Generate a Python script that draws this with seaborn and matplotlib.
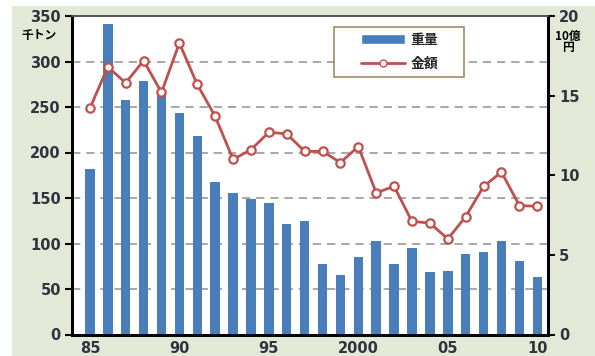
import pandas as pd
import seaborn as sns
import matplotlib.pyplot as plt
from matplotlib.patches import Rectangle
from matplotlib.lines import Line2D

# data
years = list(range(1985, 2011))
weight = [182, 341, 258, 279, 268, 243, 218, 168, 155, 149, 145, 121, 125,
          78, 65, 85, 103, 77, 95, 69, 70, 88, 91, 103, 81, 63]   # 千トン
amount = [14.2, 16.8, 15.8, 17.2, 15.2, 18.3, 15.7, 13.7, 11.0, 11.6, 12.7,
          12.6, 11.5, 11.5, 10.8, 11.8, 8.9, 9.3, 7.1, 7.0, 6.0, 7.4, 9.3,
          10.2, 8.1, 8.05]                                             # 10億円
tick_pos = [0, 5, 10, 15, 20, 25]
tick_labels = ["85", "90", "95", "2000", "05", "10"]

blue = "#4a7ebb"
red = "#c0504d"
txt = "#333340"
bg = "#e3e9d7"

df = pd.DataFrame({"year": [str(y) for y in years], "weight": weight,
                   "pos": range(len(years)), "amount": amount})

sns.set_style("white")
plt.rcParams["font.family"] = ["DejaVu Sans", "Noto Sans CJK JP"]
cjk = ["Noto Sans CJK JP", "DejaVu Sans"]

fig = plt.figure(figsize=(5.95, 3.56), dpi=100, facecolor="white")
fig.patches.append(Rectangle((12 / 595, 0), 1, 1 - 6 / 356, transform=fig.transFigure,
                             facecolor=bg, edgecolor="none", zorder=-10))
ax = fig.add_axes([72 / 595, 1 - 334.5 / 356, 476 / 595, 318.5 / 356])
ax.set_facecolor("white")

sns.barplot(data=df, x="year", y="weight", ax=ax, color=blue, saturation=1,
            width=0.53, linewidth=0, zorder=3)
ax.set_ylim(0, 350)
ax.set_yticks(range(0, 351, 50))
for v in range(50, 301, 50):
    ax.axhline(v, color="#9a9a9a", lw=1.2, ls=(0, (5, 3.5)), zorder=1)

ax2 = ax.twinx()
sns.lineplot(data=df, x="pos", y="amount", ax=ax2, color=red, lw=2, marker="o",
             markersize=6, markerfacecolor="white", markeredgecolor=red,
             markeredgewidth=1.6, zorder=4)
ax2.set_ylim(0, 20)
ax2.set_yticks([0, 5, 10, 15, 20])
ax.set_xlim(-1, 25.6)
ax.set_xticks(tick_pos)
ax.set_xticklabels(tick_labels)

for a in (ax, ax2):
    a.set_xlabel("")
    a.set_ylabel("")
    for s in ["left", "right", "bottom"]:
        a.spines[s].set_color("black")
        a.spines[s].set_linewidth(2)
    a.spines["top"].set_color("#555555")
    a.spines["top"].set_linewidth(1.3)
ax.tick_params(axis="y", length=5, width=1.5, color="black", labelsize=10.5,
               labelcolor=txt, pad=3)
ax2.tick_params(axis="y", length=5, width=1.5, color="black", labelsize=10.5,
                labelcolor=txt, pad=3)
ax.tick_params(axis="x", length=0, labelsize=10.5, labelcolor=txt, pad=5)
for lab in ax.get_yticklabels() + ax2.get_yticklabels() + ax.get_xticklabels():
    lab.set_fontweight("bold")

fig.text(39 / 595, 1 - 36 / 356, "千トン", family=cjk, fontsize=8.5, fontweight="bold",
         color="black", ha="center", va="center")
fig.text(568 / 595, 1 - 42 / 356, "10億\n円", family=cjk, fontsize=8.5, fontweight="bold",
         color="black", ha="center", va="center", linespacing=0.85)

# legend box drawn separately so it can be wider than its contents
fig.patches.append(Rectangle((334 / 595, 1 - 77 / 356), 130 / 595, 50 / 356,
                             transform=fig.transFigure, facecolor="white",
                             edgecolor="#a08c64", lw=1.2, zorder=5))
handles = [Rectangle((0, 0), 1, 1, facecolor=blue),
           Line2D([], [], color=red, lw=2, marker="o", markersize=5,
                  markerfacecolor="white", markeredgecolor=red)]
leg = fig.legend(handles, ["重量", "金額"], loc="center left",
                 bbox_to_anchor=(358 / 595, 1 - 52 / 356), borderaxespad=0,
                 frameon=False, handlelength=3.2, handletextpad=0.4,
                 borderpad=0.2, labelspacing=0.75,
                 prop={"family": cjk, "size": 10, "weight": "bold"})
leg.set_zorder(6)

fig.savefig("out.png", dpi=100)
